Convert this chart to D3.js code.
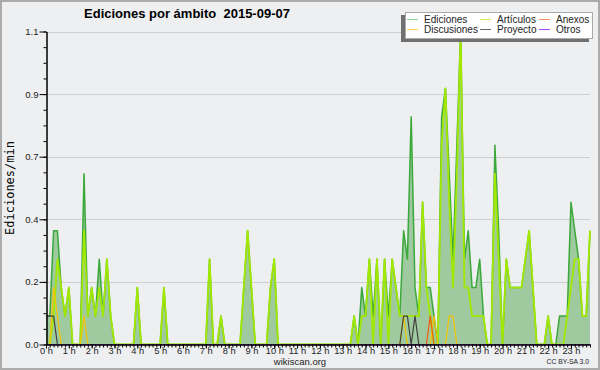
<!DOCTYPE html>
<html>
<head>
<meta charset="utf-8">
<script src="https://cdn.jsdelivr.net/npm/d3@7"></script>
<style>
  body { margin: 0; background: #fff; }
  svg { display: block; }
  text { font-family: "Liberation Sans", Arial, sans-serif; }
</style>
</head>
<body>
<svg width="600" height="370"></svg>
<script>
// 10 minute bins, one row per hour (00 .. 23), edits per minute
const hourLabels = d3.range(24).map(h => h + " h");

const ediciones = [
  0.1, 0.1, 0.4, 0.4, 0.2, 0.1,
  0.2, 0,   0,   0,   0.6, 0.1,
  0.2, 0.1, 0.3, 0.1, 0.3, 0.1,
  0,   0,   0,   0,   0,   0,
  0.2, 0,   0,   0,   0,   0,
  0,   0.2, 0,   0,   0,   0,
  0,   0,   0,   0,   0,   0,
  0,   0.3, 0,   0,   0.1, 0,
  0,   0,   0,   0,   0.2, 0.4,
  0.2, 0,   0,   0,   0,   0.2,
  0.3, 0,   0,   0,   0,   0,
  0,   0,   0,   0,   0,   0,
  0,   0,   0,   0,   0,   0,
  0,   0,   0,   0.1, 0,   0.2,
  0.1, 0.3, 0.1, 0.3, 0,   0.3,
  0.1, 0.3, 0.2, 0.1, 0.4, 0.3,
  0.8, 0.2, 0.1, 0.5, 0.2, 0.2,
  0.1, 0,   0.8, 0.9, 0.6, 0.3,
  0.7, 1.1, 0.3, 0.4, 0.2, 0.2,
  0.3, 0.1, 0,   0,   0.7, 0.4,
  0,   0.3, 0.2, 0.2, 0.2, 0.2,
  0.3, 0.4, 0.2, 0,   0,   0,
  0.1, 0,   0,   0.1, 0.1, 0.1,
  0.5, 0.4, 0.3, 0.1, 0.1, 0.4
];

const articulos = [
  0,   0,   0.1, 0.3, 0.2, 0.1,
  0.2, 0,   0,   0,   0.4, 0.1,
  0.2, 0.1, 0.2, 0.1, 0.3, 0.1,
  0,   0,   0,   0,   0,   0,
  0.2, 0,   0,   0,   0,   0,
  0,   0.2, 0,   0,   0,   0,
  0,   0,   0,   0,   0,   0,
  0,   0.3, 0,   0,   0.1, 0,
  0,   0,   0,   0,   0.2, 0.4,
  0.2, 0,   0,   0,   0,   0.2,
  0.3, 0,   0,   0,   0,   0,
  0,   0,   0,   0,   0,   0,
  0,   0,   0,   0,   0,   0,
  0,   0,   0,   0.1, 0,   0.1,
  0.1, 0.3, 0,   0.3, 0,   0.3,
  0,   0.3, 0.2, 0.1, 0.1, 0.1,
  0.1, 0.1, 0.1, 0.5, 0.2, 0.1,
  0,   0,   0.7, 0.9, 0.5, 0.2,
  0.6, 1.1, 0.2, 0.2, 0.1, 0.1,
  0.1, 0.1, 0,   0,   0.6, 0.3,
  0,   0.3, 0.2, 0.2, 0.2, 0.2,
  0.3, 0.4, 0.2, 0,   0,   0,
  0.1, 0,   0,   0,   0,   0.1,
  0.2, 0.3, 0.3, 0.1, 0.1, 0.4
];

// small series: [bin, value], every other bin is 0
const discusiones = [[2, 0.2], [3, 0.1], [10, 0.1], [94, 0.1], [102, 0.1], [106, 0.1], [107, 0.1]];
const proyecto = [[0, 0.1], [1, 0.1], [2, 0.1], [94, 0.1], [95, 0.1], [97, 0.1]];
const anexos = [[101, 0.1]];
const otros = [];

const yMax = 1.1;
const yTicks = d3.range(6).map(i => i * yMax / 5);
const yMinor = d3.range(21).map(i => i * yMax / 20);

const legendNames = ["Ediciones", "Discusiones", "Artículos", "Proyecto", "Anexos", "Otros"];
const legendColors = ["#8fd18f", "#ffd24d", "#c8ef4a", "#666", "#f59660", "#a64ee6"];

const nBins = ediciones.length;
const full = pts => {
  const a = new Array(nBins).fill(0);
  pts.forEach(p => { a[p[0]] = p[1]; });
  return a;
};

const svg = d3.select("svg");

svg.append("rect")
  .attr("x", 1).attr("y", 1).attr("width", 598).attr("height", 368)
  .attr("fill", "#eeeff1").attr("stroke", "#ababab").attr("stroke-width", 2);

const x = d3.scaleLinear().domain([0, nBins - 1]).range([46, 590]);
const y = d3.scaleLinear().domain([0, yMax]).range([344.5, 31.5]);

// grid
svg.append("g").selectAll("line").data(yTicks.slice(1)).enter().append("line")
  .attr("x1", 46).attr("x2", 590)
  .attr("y1", d => Math.round(y(d)) + 0.5).attr("y2", d => Math.round(y(d)) + 0.5)
  .attr("stroke", "#cfcfcf");

const area = d3.area().x((d, i) => x(i)).y0(y(0)).y1(d => y(d));
const line = d3.line().x((d, i) => x(i)).y(d => y(d));

svg.append("path").datum(ediciones).attr("d", area).attr("fill", "#9fca9f");

const series = [
  { data: ediciones, color: "#3aa83a", w: 1.5 },
  { data: articulos, color: "#a2e800", w: 1.8 },
  { data: full(discusiones), color: "#f5c400", w: 1.2 },
  { data: full(proyecto), color: "#404040", w: 1.2 },
  { data: full(anexos), color: "#f25a10", w: 1.2 },
  { data: full(otros), color: "#9a3be0", w: 1.2 }
];
series.forEach(s => {
  svg.append("path").datum(s.data).attr("d", line)
    .attr("fill", "none").attr("stroke", s.color).attr("stroke-width", s.w)
    .attr("stroke-linejoin", "round");
});

// y axis
svg.append("g").attr("transform", "translate(46.5,0)")
  .call(d3.axisLeft(y).tickValues(yMinor).tickSize(3).tickSizeOuter(0).tickFormat(""));
svg.append("g").attr("transform", "translate(46.5,0)")
  .call(d3.axisLeft(y).tickValues(yTicks).tickSize(7).tickSizeOuter(0).tickPadding(1)
    .tickFormat(d3.format(".1f")))
  .call(g => g.selectAll("text").attr("font-size", 9.5).attr("fill", "#222"));

// x axis
svg.append("g").attr("transform", "translate(0,344.5)")
  .call(d3.axisBottom(x).tickValues(d3.range(nBins)).tickSize(3).tickSizeOuter(0).tickFormat(""));
svg.append("g").attr("transform", "translate(0,344.5)")
  .call(d3.axisBottom(x).tickValues(d3.range(0, nBins, 6)).tickSize(4).tickSizeOuter(0)
    .tickPadding(-1).tickFormat(i => hourLabels[i / 6]))
  .call(g => g.selectAll("text").attr("font-size", 9.3).attr("fill", "#222"));

svg.selectAll(".domain").attr("stroke", "#000");
svg.selectAll(".tick line").attr("stroke", "#000");

// texts
svg.append("text").attr("x", 187).attr("y", 18).attr("text-anchor", "middle")
  .attr("font-size", 13).attr("font-weight", "bold").style("white-space", "pre")
  .text("Ediciones por ámbito  2015-09-07");

svg.append("text").attr("transform", "translate(14,188) rotate(-90)")
  .attr("text-anchor", "middle").attr("font-size", 12)
  .style("font-family", "'DejaVu Sans Mono', monospace")
  .text("Ediciones/min");

svg.append("text").attr("x", 300).attr("y", 365).attr("text-anchor", "middle")
  .attr("font-size", 9.5).attr("fill", "#222").text("wikiscan.org");

svg.append("text").attr("x", 589).attr("y", 364).attr("text-anchor", "end")
  .attr("font-size", 6.8).attr("fill", "#222").text("CC BY-SA 3.0");

// legend
const lg = svg.append("g");
lg.append("rect").attr("x", 401).attr("y", 15).attr("width", 188).attr("height", 27).attr("fill", "#707070");
lg.append("rect").attr("x", 405.5).attr("y", 12.5).attr("width", 187).attr("height", 26)
  .attr("fill", "#fff").attr("stroke", "#aaa");
const colX = [407, 480, 539];
legendNames.forEach((name, i) => {
  const cx = colX[Math.floor(i / 2)];
  const cy = i % 2 === 0 ? 19.5 : 29.5;
  lg.append("line").attr("x1", cx).attr("x2", cx + 11).attr("y1", cy).attr("y2", cy)
    .attr("stroke", legendColors[i]).attr("stroke-width", 1);
  lg.append("text").attr("x", cx + 17).attr("y", cy + 3.5)
    .attr("font-size", 10).attr("fill", "#222").text(name);
});
</script>
</body>
</html>
